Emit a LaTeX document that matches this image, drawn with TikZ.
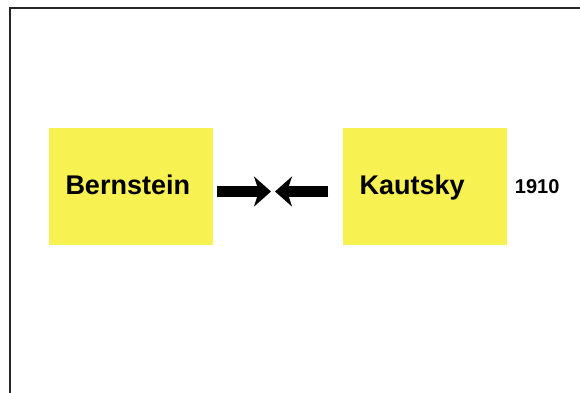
\documentclass[tikz,border=0pt]{standalone}
\usepackage{fontspec}
\setmainfont{Liberation Sans}
\usetikzlibrary{arrows.meta, positioning}
\definecolor{boxyellow}{RGB}{247,242,82}

\begin{document}
\begin{tikzpicture}[x=1pt,y=-1pt,
    namebox/.style={rectangle,fill=boxyellow,minimum width=164pt,minimum height=117pt,inner ysep=0pt,
      inner xsep=17pt,text width=130pt,align=left,
      text height=16pt,text depth=0pt,font=\fontsize{27}{30}\selectfont\bfseries},
    push/.style={line width=11pt,-{Stealth[length=17pt,width=30pt,inset=5pt]}}]
    \useasboundingbox (0,0) rectangle (580,392);
    % Rahmen
    \draw[line width=2pt,black!85] (10,396) -- (10,8) -- (584,8);

    % Namen
    \node[namebox] (bern) at (130.5,186.5) {Bernstein};
    \node[namebox] (kaut) at (424.5,186.5) {Kautsky};
    \node[right=8pt of kaut,inner sep=0pt,text height=14pt,text depth=0pt,
      font=\fontsize{20}{24}\selectfont\bfseries] (year) {1910};

    % Pfeile gegeneinander
    \coordinate (meet) at (273,191.5);
    \draw[push,shorten <=4pt,shorten >=2pt] (bern.east |- meet) -- (meet);
    \draw[push,shorten <=14pt,shorten >=2pt] (kaut.west |- meet) -- (meet);
\end{tikzpicture}
\end{document}
